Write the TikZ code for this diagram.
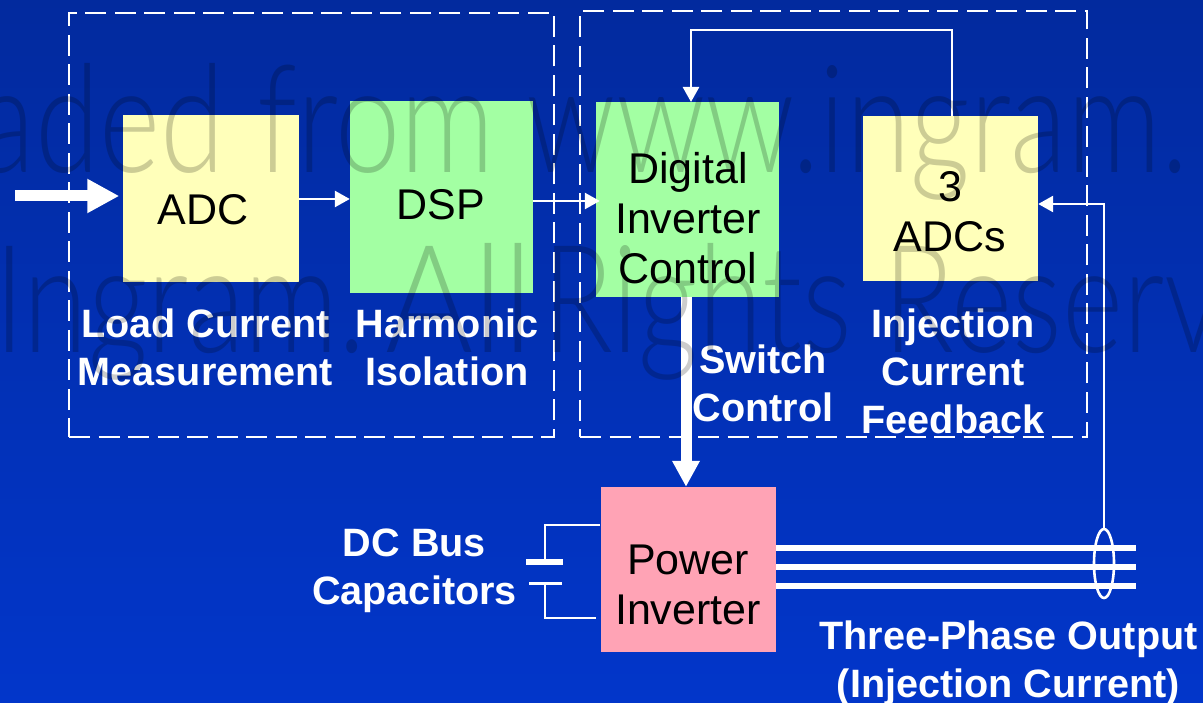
\documentclass[tikz,border=0pt]{standalone}
\usepackage{fontspec}
\setmainfont{Liberation Sans}
\newfontfamily\markfont{Lato Light}
\usetikzlibrary{arrows.meta,shapes.geometric}

\definecolor{bgtop}{RGB}{2,42,158}
\definecolor{bgbottom}{RGB}{2,54,202}
\definecolor{boxyellow}{RGB}{255,255,186}
\definecolor{boxgreen}{RGB}{163,255,163}
\definecolor{boxpink}{RGB}{255,163,181}

\tikzset{
	block/.style={inner sep=0pt,draw=none},
	group/.style={draw=white,line width=2.6pt,dash pattern=on 21pt off 8.5pt,inner sep=0pt},
	wire/.style={draw=white,line width=2.6pt},
	thinarrow/.style={wire,-{Triangle[length=15pt,width=16pt]}},
	fatarrow/.style={draw=white,line width=11pt},
	busline/.style={draw=white,line width=5.5pt},
	boxtext/.style={text=black,align=center,font=\fontsize{43}{50}\selectfont},
	caption/.style={text=white,align=center,font=\fontsize{39.6}{48}\selectfont\bfseries},
	watermark/.style={text=black,text opacity=0.2,inner sep=0pt,xscale=0.78,transform shape,font=\markfont\fontsize{150}{150}\selectfont},
}

\begin{document}
\begin{tikzpicture}[x=1pt,y=-1pt]
	\useasboundingbox (0,0) rectangle (1203,703);
	\shade[top color=bgtop,bottom color=bgbottom] (0,0) rectangle (1203,703);

	\node[group,minimum width=485pt,minimum height=424pt] (leftgroup) at (311.5,225) {};
	\node[group,minimum width=507pt,minimum height=426pt] (rightgroup) at (833.5,224) {};

	\node[block,fill=boxyellow,minimum width=176pt,minimum height=167pt] (adc) at (211,198.5) {};
	\node[block,fill=boxgreen,minimum width=183pt,minimum height=192pt] (dsp) at (441.5,197) {};
	\node[block,fill=boxgreen,minimum width=183pt,minimum height=195pt] (ctrl) at (687.5,199.5) {};
	\node[block,fill=boxyellow,minimum width=175pt,minimum height=165pt] (adcs) at (950.5,198.5) {};
	\node[block,fill=boxpink,minimum width=175pt,minimum height=165pt] (inverter) at (688.5,569.5) {};

	\node[boxtext] (adctext) at (203,210) {ADC};
	\node[boxtext] (dsptext) at (441,205) {DSP};
	\node[boxtext] (ctrltext) at (688,218) {Digital\\Inverter\\Control};
	\node[boxtext] (adcstext) at (950,212) {3\\ADCs};
	\node[boxtext] (invertertext) at (688,585) {Power\\Inverter};

	\node[caption] (loadtext) at (205.5,347) {Load Current\\Measurement};
	\node[caption] (harmtext) at (447,347) {Harmonic\\Isolation};
	\node[caption] (switchtext) at (763,383) {Switch\\Control};
	\node[caption] (feedtext) at (953,371) {Injection\\Current\\Feedback};
	\node[caption] (bustext) at (414.5,571) {DC Bus\\Capacitors};
	\node[caption] (outtext) at (1008.5,663) {Three-Phase Output\\(Injection Current)};

	%input and signal path
	\coordinate (loadin) at (15,196);
	\draw[fatarrow,-{Triangle[length=32pt,width=32pt]},shorten >=3.5pt] (loadin) -- (adc.west |- loadin);
	\coordinate (adcout) at (adc.east |- 0,199);
	\coordinate (dspout) at (dsp.east |- 0,201);
	\draw[thinarrow] (adcout) -- (dsp.west |- adcout);
	\draw[thinarrow,shorten >=-4pt] (dspout) -- (ctrl.west |- dspout);
	\draw[fatarrow,-{Triangle[length=26pt,width=26pt]}] (ctrl.south -| 686,0) -- (inverter.north -| 686,0);

	%feedback
	\coordinate (fbtop) at (952,30);
	\coordinate (fbend) at (691,102);
	\draw[thinarrow] (adcs.north -| fbtop) -- (fbtop) -| (fbend);

	\node[draw=white,line width=2.6pt,ellipse,inner sep=0pt,minimum width=20pt,minimum height=69pt] (sensor) at (1104,563.5) {};
	\coordinate (fbcorner) at (1104,204);
	\draw[thinarrow] (sensor.north) -- (fbcorner) -- (adcs.east |- fbcorner);

	\foreach \phase/\ypos in {a/548,b/567,c/586}{
		\coordinate (out\phase) at (1136,\ypos);
		\draw[busline] (inverter.east |- out\phase) -- (out\phase);
	}

	%capacitors
	\coordinate (plateone) at (545,562);
	\coordinate (platetwo) at (545,583);
	\coordinate (capin) at (600,525);
	\coordinate (capout) at (596,618);
	\draw[wire] (capin) -| (plateone);
	\draw[wire] (capout) -| (platetwo);
	\draw[white,line width=5.5pt] ([xshift=-19pt]plateone) -- ([xshift=18pt]plateone);
	\draw[wire,line width=3pt] ([xshift=-16pt]platetwo) -- ([xshift=17pt]platetwo);

	\node[watermark,anchor=base east] (markone) at (1188,173) {aded from www.ingram.};
	\node[watermark,anchor=base west] (marktwo) at (-6,353) {{\spaceskip=0.08em\relax Ingram. \scalebox{1.15}[1]{All} Rights} Reserv};
\end{tikzpicture}
\end{document}
